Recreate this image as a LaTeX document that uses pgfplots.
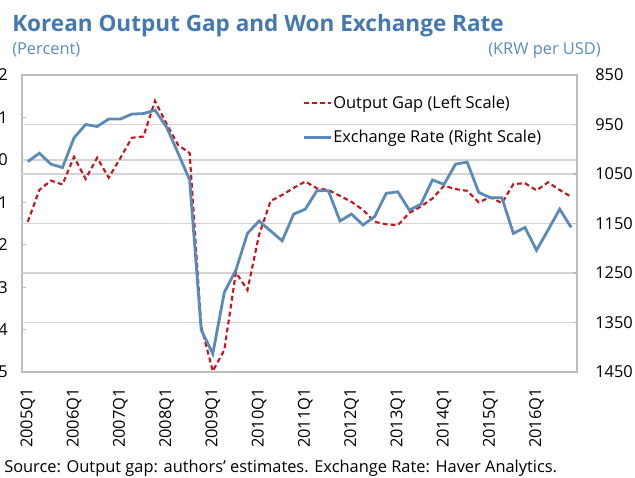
\documentclass[border=0pt]{standalone}
\usepackage{fontspec}
\setmainfont{Open Sans}
\usepackage{pgfplots}
\pgfplotsset{compat=1.18}
\definecolor{titleblue}{HTML}{4478B0}
\definecolor{subblue}{HTML}{5A8CC0}
\definecolor{gapred}{HTML}{C8141E}
\definecolor{fxblue}{HTML}{5A8AB8}
\definecolor{gridgray}{HTML}{D4D4D4}
\definecolor{bordergray}{HTML}{BDBDBD}
\begin{document}
\begin{tikzpicture}
\useasboundingbox (0,0) rectangle (476.25pt,358.5pt);
\pgfplotsset{
  common/.style={
    at={(16.5pt,79.5pt)}, anchor=south west,
    scale only axis, width=416.25pt, height=222.75pt,
    xmin=-0.5, xmax=47.5,
    tick align=inside,
    axis line style={bordergray, line width=1.1pt},
    tick style={bordergray, line width=0.8pt},
    major tick length=3pt,
    minor tick length=3pt,
    /pgf/number format/assume math mode=true,
    /pgf/number format/1000 sep={},
    ticklabel style={font=\fontsize{12.3}{14}\selectfont, text=black},
    clip=false,
  }
}
\begin{axis}[common,
  ymin=-5, ymax=2,
  ytick={-5,-4,...,2},
  ytick pos=left,
  yticklabel style={anchor=east, inner sep=0pt, xshift=-10.5pt},
  xtick={0,4,...,44},
  xticklabels={2005Q1,2006Q1,2007Q1,2008Q1,2009Q1,2010Q1,2011Q1,2012Q1,2013Q1,2014Q1,2015Q1,2016Q1},
  xticklabel style={rotate=90, anchor=east, inner sep=0pt},
  xticklabel shift=12pt,
  xtick pos=bottom,
  xtick style={draw=none},
  minor xtick={0.5,1.5,...,46.5},
  extra y ticks={0.83333,0,-0.33333,-1.5,-2.66667,-3.83333},
  extra y tick labels={},
  extra y tick style={grid=major, major grid style={gridgray, line width=1.1pt}, tick style={draw=none}},
]
\addplot[gapred, line width=1.6pt, dash pattern=on 3.6pt off 2.4pt] coordinates {
(0,-1.46) (1,-0.71) (2,-0.49) (3,-0.58) (4,0.07) (5,-0.45) (6,0.05) (7,-0.42)
(8,0.04) (9,0.52) (10,0.55) (11,1.39) (12,0.85) (13,0.35) (14,0.16) (15,-3.93)
(16,-4.98) (17,-4.48) (18,-2.65) (19,-3.07) (20,-1.77) (21,-0.97) (22,-0.83) (23,-0.66)
(24,-0.51) (25,-0.67) (26,-0.71) (27,-0.85) (28,-0.99) (29,-1.18) (30,-1.46) (31,-1.52)
(32,-1.54) (33,-1.25) (34,-1.10) (35,-0.91) (36,-0.61) (37,-0.69) (38,-0.73) (39,-1.00)
(40,-0.88) (41,-1.02) (42,-0.57) (43,-0.55) (44,-0.72) (45,-0.53) (46,-0.71) (47,-0.87)
};
\end{axis}
\begin{axis}[common,
  ymin=850, ymax=1450, y dir=reverse,
  ytick={850,950,...,1450},
  axis y line*=right,
  axis x line=none,
  yticklabel style={anchor=west, inner sep=0pt, xshift=13.5pt},
  legend style={draw=none, fill=none, at={(0.506,0.934)}, anchor=north west,
    inner sep=0pt, row sep=14pt, font=\fontsize{12.3}{14}\selectfont,
    nodes={inner sep=0.6pt}},
  legend cell align=left,
  legend image code/.code={\draw[#1] (0pt,0pt) -- (20pt,0pt);},
]
\addlegendimage{gapred, line width=1.6pt, dash pattern=on 3.6pt off 2.4pt}
\addlegendentry{Output Gap (Left Scale)}
\addplot[fxblue, line width=2.1pt] coordinates {
(0,1025) (1,1008) (2,1030) (3,1037) (4,977) (5,950) (6,954) (7,939)
(8,939) (9,929) (10,928) (11,921) (12,955) (13,1008) (14,1062) (15,1365)
(16,1413) (17,1289) (18,1244) (19,1170) (20,1145) (21,1165) (22,1185) (23,1131)
(24,1121) (25,1084) (26,1084) (27,1145) (28,1131) (29,1153) (30,1136) (31,1089)
(32,1086) (33,1123) (34,1111) (35,1062) (36,1071) (37,1030) (38,1026) (39,1087)
(40,1098) (41,1098) (42,1170) (43,1158) (44,1204) (45,1163) (46,1121) (47,1158)
};
\addlegendentry{Exchange Rate (Right Scale)}
\end{axis}
\node[anchor=base west, inner sep=0pt, text=titleblue, font=\fontsize{16.9}{19}\selectfont\bfseries] at (9pt,334.7pt) {Korean Output Gap and Won Exchange Rate};
\node[anchor=base west, inner sep=0pt, text=subblue, font=\fontsize{12.3}{14}\selectfont] at (9pt,317.9pt) {(Percent)};
\node[anchor=base east, inner sep=0pt, text=subblue, font=\fontsize{12.3}{14}\selectfont] at (450.75pt,317.9pt) {(KRW per USD)};
\node[anchor=base west, inner sep=0pt, font=\fontsize{12.3}{14}\selectfont] at (3pt,3.75pt) {Source: Output gap: authors' estimates. Exchange Rate: Haver Analytics.};
\end{tikzpicture}
\end{document}
